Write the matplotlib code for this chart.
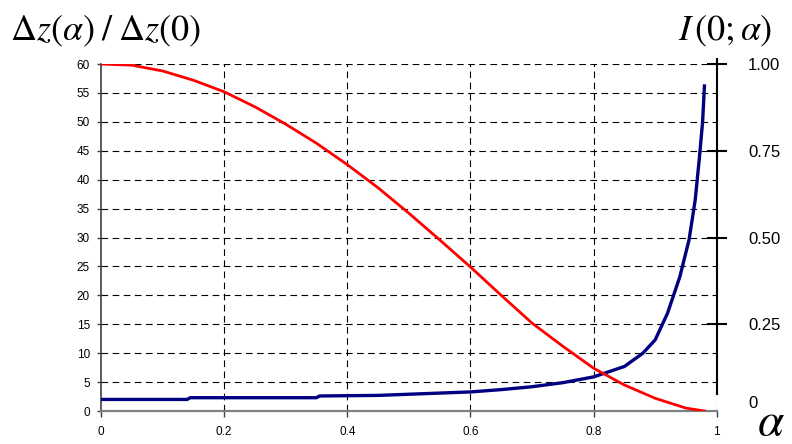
import numpy as np
import matplotlib.pyplot as plt

plt.rcParams['mathtext.fontset'] = 'stix'
plt.rcParams['font.family'] = ['Liberation Sans', 'DejaVu Sans']

# red curve: dz(alpha)/dz(0)
alpha_red = [0, 0.05, 0.1, 0.15, 0.2, 0.25, 0.3, 0.35, 0.4, 0.45, 0.5, 0.55,
             0.6, 0.65, 0.7, 0.75, 0.8, 0.85, 0.9, 0.95, 0.98]
dz_ratio = [60, 59.8, 58.8, 57.2, 55.2, 52.6, 49.6, 46.3, 42.6, 38.6, 34.2, 29.6,
            24.9, 20.0, 15.2, 11.2, 7.4, 4.5, 2.2, 0.5, 0.0]

# blue curve: I(0;alpha), drawn in left-axis units (1.00 -> 60)
alpha_blue = [0, 0.14, 0.145, 0.35, 0.355, 0.45, 0.5, 0.55, 0.6, 0.65, 0.7, 0.75,
              0.8, 0.85, 0.88, 0.9, 0.92, 0.94, 0.955, 0.965, 0.972, 0.977, 0.98]
intensity = [2.0, 2.0, 2.3, 2.3, 2.6, 2.7, 2.9, 3.1, 3.3, 3.7, 4.2, 4.9,
             5.9, 7.7, 10.0, 12.3, 16.9, 23.2, 29.6, 36.5, 44.0, 50.0, 56.2]

left_ticks = np.arange(0, 61, 5)
x_ticks = [0, 0.2, 0.4, 0.6, 0.8, 1]
x_labels = ['0', '0.2', '0.4', '0.6', '0.8', '1']
right_ticks = [0.25, 0.5, 0.75, 1.0]
right_labels = ['0.25', '0.50', '0.75', '1.00']

fig = plt.figure(figsize=(7.92, 4.44), dpi=100)
ax = fig.add_axes([0.1275, 0.0743, 0.7775, 0.7815])

ax.set_xlim(0, 1)
ax.set_ylim(0, 60)

# dashed grid
for y in left_ticks[1:]:
    ax.axhline(y, color='black', lw=0.8, ls=(0, (6, 4)), zorder=1)
for x in x_ticks[1:]:
    ax.axvline(x, color='black', lw=0.8, ls=(0, (6, 4)), zorder=1)

ax.plot(alpha_blue, intensity, color='#000080', lw=2.4, zorder=3)
ax.plot(alpha_red, dz_ratio, color='#ff0000', lw=2.0, zorder=4)

ax.set_yticks(left_ticks)
ax.set_xticks(x_ticks)
ax.set_xticklabels(x_labels)
ax.tick_params(axis='y', direction='out', length=3, width=1, pad=5,
               labelsize=8.5, color='#404040')
ax.tick_params(axis='x', direction='out', length=4, width=1, pad=7,
               labelsize=8.5, color='#404040')

for s in ['top', 'right']:
    ax.spines[s].set_visible(False)
ax.spines['left'].set_color('#404040')
ax.spines['left'].set_linewidth(1.2)
ax.spines['bottom'].set_color('#808080')
ax.spines['bottom'].set_linewidth(1.6)

# right axis for I(0;alpha)
ax2 = ax.twinx()
ax2.set_ylim(0, 1)
for s in ['top', 'left', 'bottom']:
    ax2.spines[s].set_visible(False)
ax2.spines['right'].set_bounds(0.05, 1.015)
ax2.spines['right'].set_linewidth(1.5)
ax2.set_yticks(right_ticks)
ax2.set_yticklabels(right_labels)
ax2.tick_params(axis='y', direction='inout', length=15, width=1.5, pad=15,
                labelsize=12)
ax2.text(1.052, 0.023, '0', transform=ax2.get_yaxis_transform(),
         ha='left', va='center', fontsize=12)

# axis titles
fig.text(0.012, 0.91, r'$\Delta z(\alpha)\;/\;\Delta z(0)$', fontsize=26,
         ha='left', va='baseline')
fig.text(0.856, 0.91, r'$I\,(0;\alpha)$', fontsize=26, ha='left', va='baseline')
fig.text(0.956, 0.02, r'$\alpha$', fontsize=34, ha='left', va='baseline')

fig.savefig('out.png', dpi=100)
